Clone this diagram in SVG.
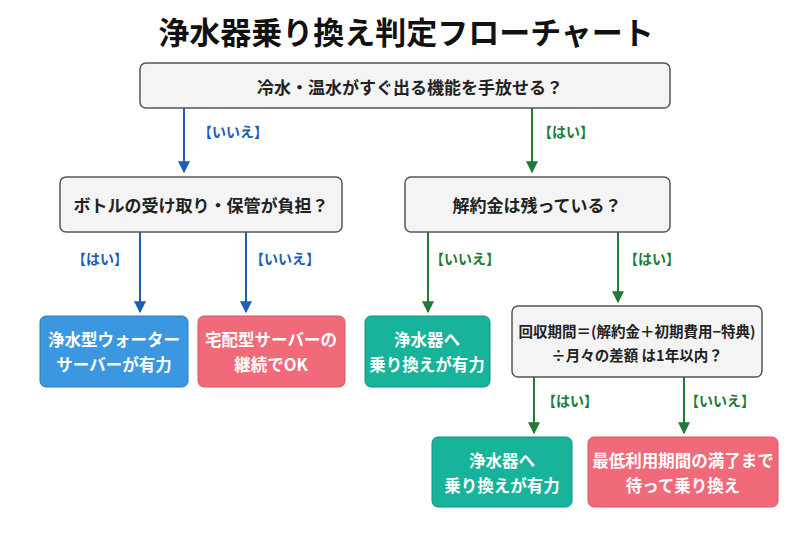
<svg xmlns="http://www.w3.org/2000/svg" width="812" height="541" viewBox="0 0 812 541">
<style>
text{font-family:"Noto Sans CJK JP","Noto Sans",sans-serif;font-weight:bold;text-anchor:middle;dominant-baseline:central}
.q{fill:#f4f4f4;stroke:#555;stroke-width:1.5}
.qt{font-size:17px;fill:#222}
.lt{font-size:16.5px;fill:#fff}
.b{stroke:#1a5fb4;stroke-width:2;fill:none}
.g{stroke:#1e7a35;stroke-width:2;fill:none}
.bl{fill:#1a5fb4;font-size:14px}
.gl{fill:#1e7a35;font-size:14px}
</style>
<defs>
<marker id="ab" viewBox="0 0 10 10" refX="9" refY="5" markerWidth="6" markerHeight="6" orient="auto"><path d="M0,0L10,5L0,10z" fill="#1a5fb4"/></marker>
<marker id="ag" viewBox="0 0 10 10" refX="9" refY="5" markerWidth="6" markerHeight="6" orient="auto"><path d="M0,0L10,5L0,10z" fill="#1e7a35"/></marker>
</defs>
<rect width="812" height="541" fill="#fff"/>
<text x="406" y="30" style="font-size:31px;fill:#111">浄水器乗り換え判定フローチャート</text>
<g id="connectors">
<path class="b" d="M184,108V172" marker-end="url(#ab)"/>
<path class="g" d="M532,108V172" marker-end="url(#ag)"/>
<path class="b" d="M140,232V312" marker-end="url(#ab)"/>
<path class="b" d="M246,232V312" marker-end="url(#ab)"/>
<path class="g" d="M428,232V312" marker-end="url(#ag)"/>
<path class="g" d="M618,232V302" marker-end="url(#ag)"/>
<path class="g" d="M534,377V433" marker-end="url(#ag)"/>
<path class="g" d="M684,377V433" marker-end="url(#ag)"/>
<text class="bl" x="233" y="131">【いいえ】</text>
<text class="gl" x="566" y="131">【はい】</text>
<text class="bl" x="100" y="258">【はい】</text>
<text class="bl" x="285" y="258">【いいえ】</text>
<text class="gl" x="465" y="258">【いいえ】</text>
<text class="gl" x="652" y="258">【はい】</text>
<text class="gl" x="570" y="400">【はい】</text>
<text class="gl" x="720" y="400">【いいえ】</text>
</g>
<g id="q1"><rect class="q" x="140" y="63" width="530" height="45" rx="6"/><text class="qt" x="410" y="86">冷水・温水がすぐ出る機能を手放せる？</text></g>
<g id="q2"><rect class="q" x="60" y="177" width="282" height="55" rx="6"/><text class="qt" x="201" y="204">ボトルの受け取り・保管が負担？</text></g>
<g id="q3"><rect class="q" x="405" y="177" width="265" height="55" rx="6"/><text class="qt" x="537" y="204">解約金は残っている？</text></g>
<g id="r1"><rect x="40" y="316" width="148" height="71" rx="6" fill="#3a97e0" stroke="#2a7cc0"/><text class="lt" x="114" y="339">浄水型ウォーター</text><text class="lt" x="114" y="364">サーバーが有力</text></g>
<g id="r2"><rect x="198" y="316" width="147" height="71" rx="6" fill="#f06a7a" stroke="#d85566"/><text class="lt" x="271" y="339">宅配型サーバーの</text><text class="lt" x="271" y="364">継続でOK</text></g>
<g id="r3"><rect x="365" y="316" width="125" height="71" rx="6" fill="#17b39b" stroke="#0e9580"/><text class="lt" x="427" y="339">浄水器へ</text><text class="lt" x="427" y="364">乗り換えが有力</text></g>
<g id="q4"><rect class="q" x="512" y="306" width="250" height="71" rx="6"/><text class="qt" x="637" y="330" style="font-size:14.5px">回収期間＝(解約金＋初期費用−特典)</text><text class="qt" x="637" y="354" style="font-size:14.5px">÷月々の差額 は1年以内？</text></g>
<g id="r4"><rect x="432" y="437" width="140" height="70" rx="6" fill="#17b39b" stroke="#0e9580"/><text class="lt" x="502" y="460">浄水器へ</text><text class="lt" x="502" y="485">乗り換えが有力</text></g>
<g id="r5"><rect x="588" y="437" width="190" height="70" rx="6" fill="#f06a7a" stroke="#d85566"/><text class="lt" x="683" y="460">最低利用期間の満了まで</text><text class="lt" x="683" y="485">待って乗り換え</text></g>
</svg>
